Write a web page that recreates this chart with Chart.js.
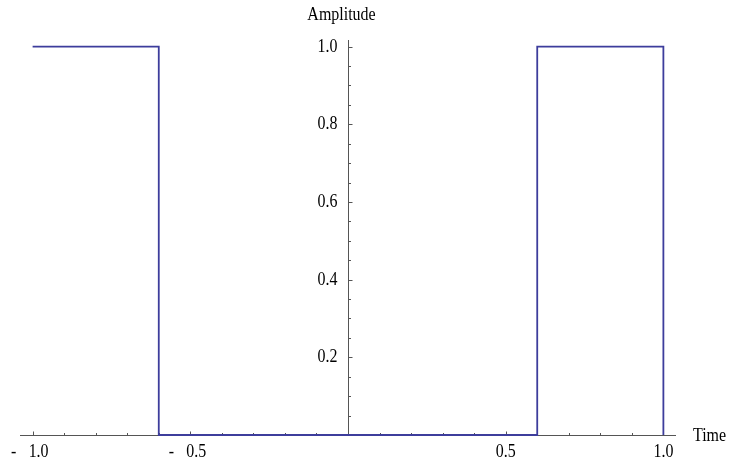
<!DOCTYPE html>
<html lang="en">
<head>
    <meta charset="UTF-8">
    <script src="https://cdn.jsdelivr.net/npm/chart.js@4.4.0/dist/chart.umd.min.js"></script>
    <title>Square pulse</title>
    <style>
        body { margin: 0; background: #fff; }
        #wrap { width: 730px; height: 464px; }
    </style>
</head>
<body>
    <div id="wrap"><canvas id="chart" width="730" height="464"></canvas></div>

    <script>
        // pulse outline: high outside |t| > 0.6, low in between
        const times = [-1, -0.6, -0.6, 0.6, 0.6, 1, 1];
        const amplitudes = [1, 1, 0, 0, 1, 1, 0];

        // axis ticks and their labels
        const xTicks = [-1, -0.5, 0.5, 1];
        const xTickLabels = ['- 1.0', '- 0.5', '0.5', '1.0'];
        const yTicks = [0.2, 0.4, 0.6, 0.8, 1.0];
        const yTickLabels = ['0.2', '0.4', '0.6', '0.8', '1.0'];
        const xTitle = 'Time';
        const yTitle = 'Amplitude';

        const lineColor = '#3d3d9c';
        const axisColor = '#555';
        const font = '19px "Liberation Serif", "Times New Roman", serif';
        const squeeze = 0.84;

        // squeezed serif text, like the old notebook output
        function text(ctx, str, x, y, align) {
            ctx.save();
            ctx.translate(x, y);
            ctx.scale(squeeze, 1);
            ctx.textAlign = align;
            ctx.fillText(str, 0, 0);
            ctx.restore();
        }

        // axes crossing at the origin, ticks pointing inwards
        const axesPlugin = {
            id: 'originAxes',
            beforeDatasetsDraw(chart) {
                const ctx = chart.ctx;
                const xs = chart.scales.x, ys = chart.scales.y;
                const ox = Math.round(xs.getPixelForValue(0)) + 0.5;
                const oy = Math.round(ys.getPixelForValue(0)) + 0.5;
                ctx.save();
                ctx.strokeStyle = axisColor;
                ctx.lineWidth = 1;
                ctx.beginPath();
                ctx.moveTo(xs.left, oy);
                ctx.lineTo(xs.right, oy);
                ctx.moveTo(ox, ys.bottom);
                ctx.lineTo(ox, ys.top);

                // x ticks every 0.1
                for (let i = -10; i <= 10; i++) {
                    if (i === 0) continue;
                    const px = Math.round(xs.getPixelForValue(i / 10)) + 0.5;
                    const len = i % 5 === 0 ? 4 : 2.5;
                    ctx.moveTo(px, oy);
                    ctx.lineTo(px, oy - len);
                }
                // y ticks every 0.05
                for (let i = 1; i <= 20; i++) {
                    const py = Math.round(ys.getPixelForValue(i / 20)) + 0.5;
                    const len = i % 4 === 0 ? 4 : 2.5;
                    ctx.moveTo(ox, py);
                    ctx.lineTo(ox + len, py);
                }
                ctx.stroke();

                ctx.fillStyle = '#000';
                ctx.font = font;
                ctx.textBaseline = 'alphabetic';
                xTicks.forEach((v, i) => {
                    const px = xs.getPixelForValue(v);
                    const lab = xTickLabels[i];
                    if (lab.startsWith('- ')) {
                        text(ctx, '-', px - 19, 457, 'center');
                        text(ctx, lab.slice(2), px + 6, 457, 'center');
                    } else {
                        text(ctx, lab, px, 457, 'center');
                    }
                });
                ctx.textBaseline = 'middle';
                yTicks.forEach((v, i) => {
                    const py = ys.getPixelForValue(v);
                    text(ctx, yTickLabels[i], ox - 11, py, 'right');
                });

                ctx.textBaseline = 'alphabetic';
                text(ctx, yTitle, ox - 7, 20, 'center');
                text(ctx, xTitle, xs.right + 17, 441, 'left');
                ctx.restore();
            }
        };

        const ctx = document.getElementById('chart').getContext('2d');
        new Chart(ctx, {
            type: 'scatter',
            data: {
                datasets: [{
                    data: times.map((t, i) => ({ x: t, y: amplitudes[i] })),
                    showLine: true,
                    borderColor: lineColor,
                    borderWidth: 1.8,
                    pointRadius: 0,
                    clip: false
                }]
            },
            options: {
                responsive: false,
                animation: false,
                layout: { padding: { left: 20, right: 54, top: 40, bottom: 29 } },
                plugins: { legend: { display: false }, tooltip: { enabled: false } },
                scales: {
                    x: { type: 'linear', min: -1.04, max: 1.04, display: false },
                    y: { type: 'linear', min: 0, max: 1.017, display: false }
                }
            },
            plugins: [axesPlugin]
        });
    </script>
</body>
</html>
